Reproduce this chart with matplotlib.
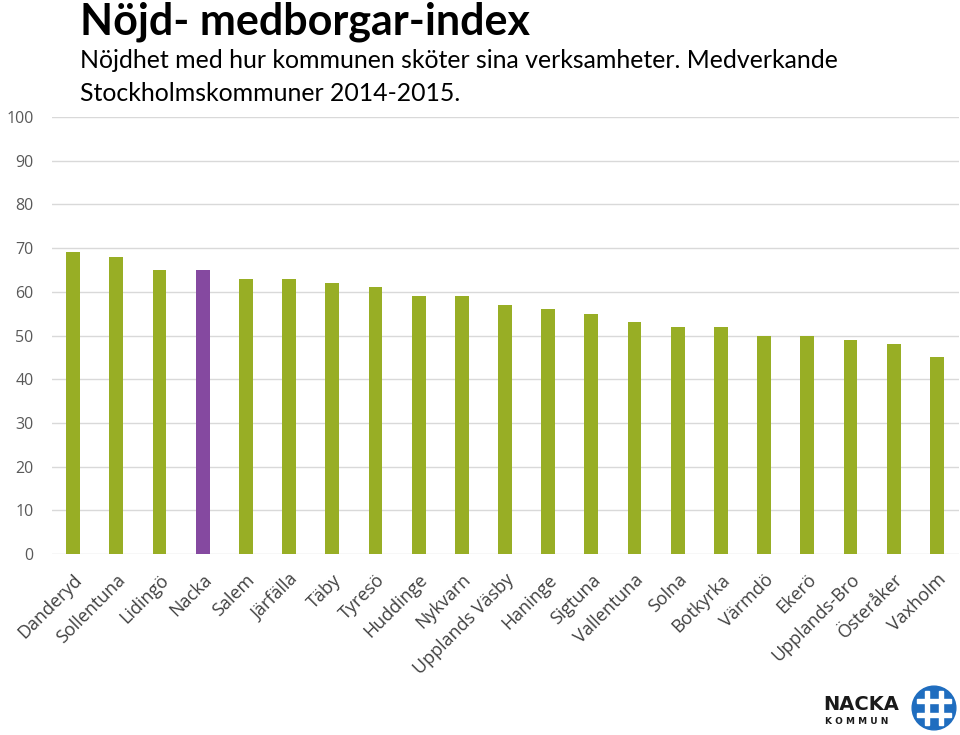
import matplotlib
matplotlib.use("Agg")
import matplotlib.pyplot as plt
from matplotlib.patches import Circle, Rectangle

categories = ["Danderyd", "Sollentuna", "Lidingö", "Nacka", "Salem", "Järfälla", "Täby",
              "Tyresö", "Huddinge", "Nykvarn", "Upplands Väsby", "Haninge", "Sigtuna",
              "Vallentuna", "Solna", "Botkyrka", "Värmdö", "Ekerö", "Upplands-Bro",
              "Österåker", "Vaxholm"]
values = [69, 68, 65, 65, 63, 63, 62, 61, 59, 59, 57, 56, 55, 53, 52, 52, 50, 50, 49, 48, 45]
highlight = "Nacka"
yticks = [0, 10, 20, 30, 40, 50, 60, 70, 80, 90, 100]

green = "#98AE25"
purple = "#8549A0"
colors = [purple if c == highlight else green for c in categories]

fig = plt.figure(figsize=(9.6, 7.35), dpi=100)
ax = fig.add_axes([51.5 / 960, 1 - 554 / 735, (958.5 - 51.5) / 960, (554 - 117) / 735])
x = list(range(len(categories)))
ax.bar(x, values, width=0.32, color=colors, zorder=3)
ax.set_xlim(-0.5, len(categories) - 0.5)
ax.set_ylim(0, 100)
ax.set_yticks(yticks)
ax.set_yticklabels([str(t) for t in yticks], family="Open Sans", fontsize=11.5, color="#595959")
ax.yaxis.grid(True, color="#d9d9d9", linewidth=1, zorder=0)
ax.tick_params(axis="y", length=0, pad=13)
ax.tick_params(axis="x", length=0, pad=12)
for s in ax.spines.values():
    s.set_visible(False)
ax.set_xticks(x)
ax.set_xticklabels(categories, rotation=45, ha="right", rotation_mode="anchor",
                   family="Open Sans", fontsize=13, color="#404040")

fig.text(80 / 960, 1 - 34 / 735, "Nöjd- medborgar-index", family="Lato", fontweight="bold",
         fontsize=31, color="black", va="baseline")
fig.text(80 / 960, 1 - 68 / 735, "Nöjdhet med hur kommunen sköter sina verksamheter. Medverkande",
         family="Lato", fontsize=17.9, color="black", va="baseline")
fig.text(80 / 960, 1 - 101 / 735, "Stockholmskommuner 2014-2015.",
         family="Lato", fontsize=17.9, color="black", va="baseline")

# logo
fig.text(823 / 960, 1 - 710 / 735, "NACKA", family="DejaVu Sans", fontweight="heavy",
         fontsize=14, color="#1a1a1a", va="baseline")
fig.text(825 / 960, 1 - 724 / 735, "K O M M U N", family="DejaVu Sans", fontweight="bold",
         fontsize=6.5, color="#1a1a1a", va="baseline")
lax = fig.add_axes([911 / 960, 1 - 731 / 735, 46 / 960, 46 / 735])
lax.set_xlim(-1, 1)
lax.set_ylim(-1, 1)
lax.set_aspect("equal")
lax.axis("off")
lax.add_patch(Circle((0, 0), 0.95, color="#1f6dbf"))
for pos in (-0.3, 0.3):
    lax.add_patch(Rectangle((pos - 0.09, -0.75), 0.18, 1.5, color="white"))
    lax.add_patch(Rectangle((-0.75, pos - 0.09), 1.5, 0.18, color="white"))

fig.savefig("out.png", dpi=100)
